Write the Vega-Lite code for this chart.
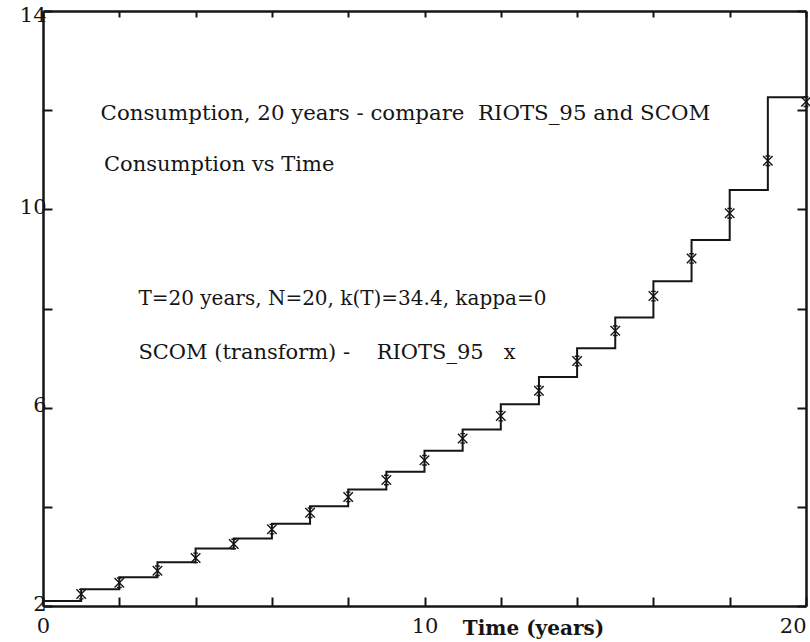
{
  "$schema": "https://vega.github.io/schema/vega-lite/v6.json",
  "width": 763,
  "height": 595,
  "autosize": {"type": "none"},
  "padding": {"left": 43, "top": 11, "right": 4, "bottom": 36},
  "background": "white",
  "config": {"view": {"stroke": null}, "font": "DejaVu Serif"},
  "datasets": {
    "scom": [
      {"t": 0, "c": 2.10}, {"t": 1, "c": 2.34}, {"t": 2, "c": 2.58}, {"t": 3, "c": 2.88},
      {"t": 4, "c": 3.16}, {"t": 5, "c": 3.36}, {"t": 6, "c": 3.66}, {"t": 7, "c": 4.01},
      {"t": 8, "c": 4.35}, {"t": 9, "c": 4.71}, {"t": 10, "c": 5.13}, {"t": 11, "c": 5.56},
      {"t": 12, "c": 6.07}, {"t": 13, "c": 6.62}, {"t": 14, "c": 7.20}, {"t": 15, "c": 7.82},
      {"t": 16, "c": 8.55}, {"t": 17, "c": 9.38}, {"t": 18, "c": 10.39}, {"t": 19, "c": 12.26},
      {"t": 20, "c": 12.26}
    ],
    "riots": [
      {"t": 1, "c": 2.24}, {"t": 2, "c": 2.47}, {"t": 3, "c": 2.71}, {"t": 4, "c": 2.97},
      {"t": 5, "c": 3.25}, {"t": 6, "c": 3.55}, {"t": 7, "c": 3.88}, {"t": 8, "c": 4.20},
      {"t": 9, "c": 4.54}, {"t": 10, "c": 4.94}, {"t": 11, "c": 5.38}, {"t": 12, "c": 5.83},
      {"t": 13, "c": 6.34}, {"t": 14, "c": 6.94}, {"t": 15, "c": 7.55}, {"t": 16, "c": 8.25},
      {"t": 17, "c": 9.01}, {"t": 18, "c": 9.92}, {"t": 19, "c": 10.98}, {"t": 20, "c": 12.17}
    ]
  },
  "layer": [
    {
      "data": {"name": "scom"},
      "mark": {"type": "line", "interpolate": "step-after", "color": "#151515", "strokeWidth": 2},
      "encoding": {
        "x": {
          "field": "t", "type": "quantitative",
          "scale": {"domain": [0, 20], "nice": false, "zero": false},
          "axis": {
            "orient": "bottom",
            "values": [0, 2, 4, 6, 8, 10, 12, 14, 16, 18, 20],
            "labelExpr": "datum.value % 10 == 0 ? datum.label : ''",
            "labelAlign": {"condition": {"test": "datum.value == 20", "value": "right"}, "value": "center"},
            "tickSize": -9, "tickWidth": 2, "tickColor": "#151515",
            "domainColor": "#151515", "domainWidth": 2.5,
            "labelFont": "DejaVu Serif", "labelFontSize": 21, "labelColor": "#151515",
            "labelPadding": 18, "labelOverlap": false, "labelBound": false, "labelFlush": false,
            "grid": false,
            "title": "Time (years)",
            "titleFont": "DejaVu Serif", "titleFontSize": 20, "titleFontWeight": "bold", "titleColor": "#151515",
            "titleX": 490, "titleY": 22, "titleBaseline": "middle", "titleAlign": "center"
          }
        },
        "y": {
          "field": "c", "type": "quantitative",
          "scale": {"domain": [2, 14], "nice": false, "zero": false},
          "axis": {
            "orient": "left",
            "values": [2, 4, 6, 8, 10, 12, 14],
            "labelExpr": "(datum.value - 2) % 4 == 0 ? datum.label : ''",
            "tickSize": -9, "tickWidth": 2, "tickColor": "#151515",
            "domainColor": "#151515", "domainWidth": 2.5,
            "labelFont": "DejaVu Serif", "labelFontSize": 21, "labelColor": "#151515",
            "labelPadding": 6,
            "labelOffset": {"condition": {"test": "datum.value == 14", "value": 4}, "value": -2},
            "labelOverlap": false, "labelBound": false, "labelFlush": false,
            "grid": false, "title": null
          }
        }
      }
    },
    {
      "data": {"name": "riots"},
      "mark": {"type": "point", "shape": "M-1,-1L1,1M-1,1L1,-1M-0.5,-1L0.5,-1M-0.5,1L0.5,1", "filled": false, "size": 90, "color": "#151515", "strokeWidth": 1.4, "opacity": 1},
      "encoding": {
        "x": {
          "field": "t", "type": "quantitative",
          "axis": {
            "orient": "top",
            "values": [0, 2, 4, 6, 8, 10, 12, 14, 16, 18, 20],
            "labels": false, "tickSize": -6, "tickWidth": 2, "tickColor": "#151515",
            "domainColor": "#151515", "domainWidth": 2.5, "grid": false, "title": null
          }
        },
        "y": {
          "field": "c", "type": "quantitative",
          "axis": {
            "orient": "right",
            "values": [2, 4, 6, 8, 10, 12, 14],
            "labels": false, "tickSize": -9, "tickWidth": 2, "tickColor": "#151515",
            "domainColor": "#151515", "domainWidth": 2.5, "grid": false, "title": null
          }
        }
      }
    },
    {
      "data": {"values": [{}]},
      "mark": {"type": "text", "align": "left", "baseline": "alphabetic", "font": "DejaVu Serif", "fontSize": 21.3, "color": "#151515"},
      "encoding": {
        "x": {"datum": 1.51, "type": "quantitative", "axis": null},
        "y": {"datum": 11.80, "type": "quantitative", "axis": null},
        "text": {"value": "Consumption, 20 years - compare\u00a0\u00a0RIOTS_95 and SCOM"}
      }
    },
    {
      "data": {"values": [{}]},
      "mark": {"type": "text", "align": "left", "baseline": "alphabetic", "font": "DejaVu Serif", "fontSize": 21, "color": "#151515"},
      "encoding": {
        "x": {"datum": 1.6, "type": "quantitative", "axis": null},
        "y": {"datum": 10.77, "type": "quantitative", "axis": null},
        "text": {"value": "Consumption vs Time"}
      }
    },
    {
      "data": {"values": [{}]},
      "mark": {"type": "text", "align": "left", "baseline": "alphabetic", "font": "DejaVu Serif", "fontSize": 20, "color": "#151515"},
      "encoding": {
        "x": {"datum": 2.5, "type": "quantitative", "axis": null},
        "y": {"datum": 8.07, "type": "quantitative", "axis": null},
        "text": {"value": "T=20 years, N=20, k(T)=34.4, kappa=0"}
      }
    },
    {
      "data": {"values": [{}]},
      "mark": {"type": "text", "align": "left", "baseline": "alphabetic", "font": "DejaVu Serif", "fontSize": 21, "color": "#151515"},
      "encoding": {
        "x": {"datum": 2.5, "type": "quantitative", "axis": null},
        "y": {"datum": 6.98, "type": "quantitative", "axis": null},
        "text": {"value": "SCOM (transform) -\u00a0\u00a0\u00a0\u00a0RIOTS_95\u00a0\u00a0\u00a0x"}
      }
    }
  ],
  "resolve": {"axis": {"x": "independent", "y": "independent"}}
}
